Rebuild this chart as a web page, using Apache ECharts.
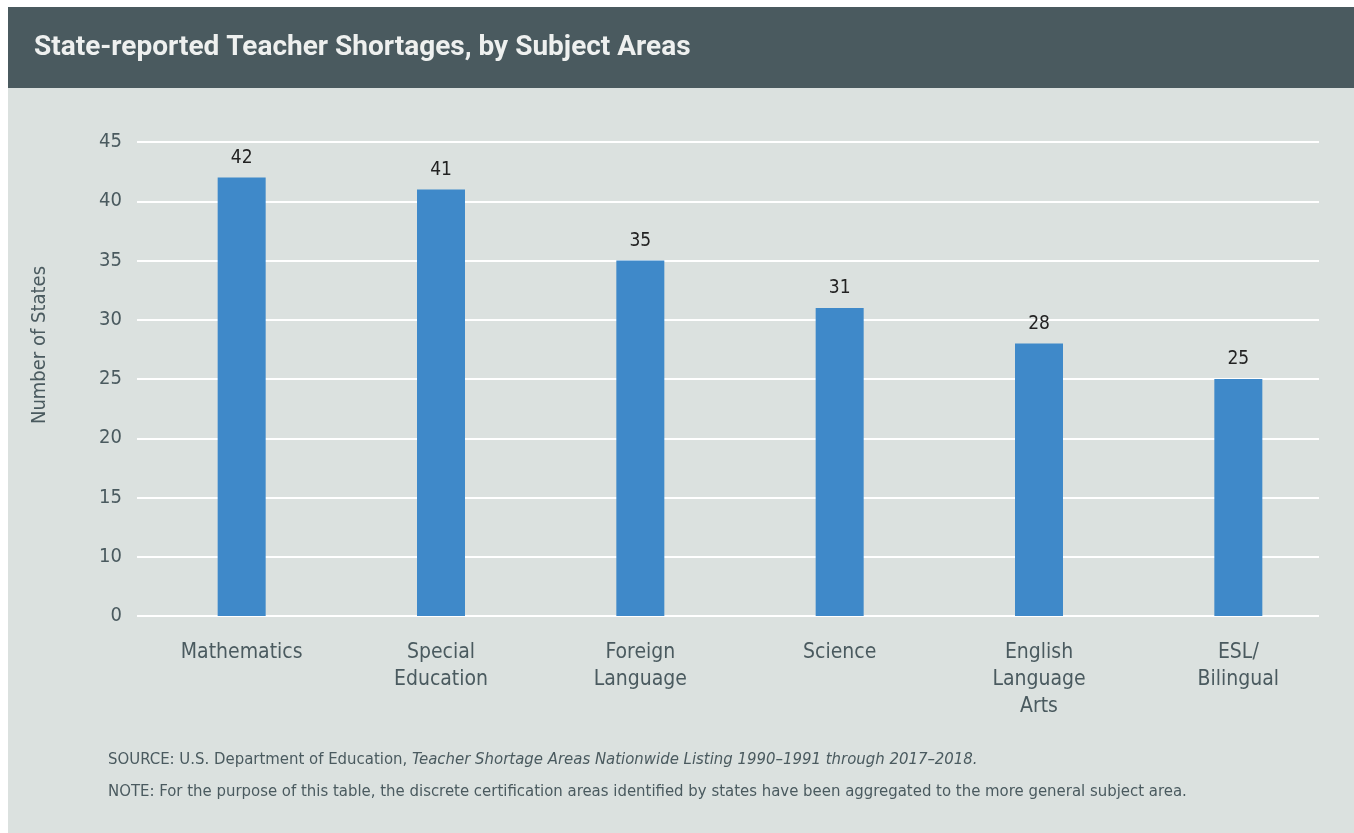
<!DOCTYPE html>
<html>
<head>
<meta charset="utf-8">
<script src="https://cdn.jsdelivr.net/npm/echarts@6/dist/echarts.min.js"></script>
<style>
html,body{margin:0;padding:0;background:#ffffff;}
#chart{width:1354px;height:833px;}
</style>
</head>
<body>
<div id="chart"></div>
<script>
const categories = ['Mathematics', 'Special\nEducation', 'Foreign\nLanguage', 'Science', 'English\nLanguage\nArts', 'ESL/\nBilingual'];
const values = [42, 41, 35, 31, 28, 25];
const yTicks = [5, 10, 15, 20, 25, 30, 35, 40, 45];
const yTickLabels = ['0', '10', '15', '20', '25', '30', '35', '40', '45'];
const titleText = 'State-reported Teacher Shortages, by Subject Areas';
const yAxisName = 'Number of States';
const sourceLead = 'SOURCE: U.S. Department of Education, ';
const sourceItalic = 'Teacher Shortage Areas Nationwide Listing 1990\u20131991 through 2017\u20132018.';
const noteText = 'NOTE: For the purpose of this table, the discrete certification areas identified by states have been aggregated to the more general subject area.';

const textColor = '#4a5a5f';
const narrow = '"Liberation Sans Narrow", "DejaVu Sans Condensed", "Roboto", sans-serif';

const chart = echarts.init(document.getElementById('chart'), null, {renderer: 'canvas'});

const yMin = yTicks[0], yMax = yTicks[yTicks.length - 1];
const labelFor = v => { const i = yTicks.indexOf(v); return i >= 0 ? yTickLabels[i] : ''; };

chart.setOption({
  backgroundColor: '#ffffff',
  animation: false,
  graphic: [
    {type: 'rect', left: 8, top: 7, shape: {width: 1346, height: 826}, style: {fill: '#dbe1df'}, z: -10},
    {type: 'rect', left: 8, top: 7, shape: {width: 1346, height: 81}, style: {fill: '#4a5a5f'}, z: -9},
    {type: 'text', x: 40, y: 345, rotation: Math.PI / 2, style: {
      text: yAxisName, fontFamily: narrow, fontSize: 20, fill: textColor, align: 'center', verticalAlign: 'middle'
    }},
    {type: 'text', left: 108, top: 751, style: {
      rich: {
        n: {fontFamily: narrow, fontSize: 16.6, fill: textColor},
        i: {fontFamily: narrow, fontSize: 16.6, fontStyle: 'italic', fill: textColor}
      },
      text: '{n|' + sourceLead + '}{i|' + sourceItalic + '}'
    }},
    {type: 'text', left: 108, top: 783, style: {text: noteText, fontFamily: narrow, fontSize: 16.6, fill: textColor}}
  ],
  title: {
    text: titleText, left: 29, top: 29,
    textStyle: {color: '#eef0ef', fontSize: 28, fontWeight: 'bold', fontFamily: 'Roboto, sans-serif'}
  },
  grid: [
    {left: 142, right: 16, top: 142, height: 474},
    {left: 137, right: 35, top: 142, height: 474}
  ],
  xAxis: [
    {type: 'category', gridIndex: 0, data: categories,
     axisLine: {show: false}, axisTick: {show: false},
     axisLabel: {color: textColor, fontFamily: narrow, fontSize: 21, lineHeight: 27, margin: 23, interval: 0, verticalAlign: 'top'}},
    {type: 'category', gridIndex: 1, data: categories, show: false}
  ],
  yAxis: [
    {type: 'value', gridIndex: 0, min: yMin, max: yMax, interval: 5,
     splitLine: {show: false}, axisLine: {show: false}, axisTick: {show: false},
     axisLabel: {show: false}},
    {type: 'value', gridIndex: 1, min: yMin, max: yMax, interval: 5,
     splitLine: {lineStyle: {color: '#ffffff', width: 2}},
     axisLine: {show: false}, axisTick: {show: false},
     axisLabel: {color: textColor, fontFamily: narrow, fontSize: 20, margin: 15, formatter: labelFor}}
  ],
  series: [{
    type: 'bar', xAxisIndex: 0, yAxisIndex: 0, data: values,
    barWidth: 48,
    itemStyle: {color: '#3f89c9'},
    label: {show: true, position: 'top', distance: 10, color: '#222222', fontFamily: narrow, fontSize: 19},
    z: 5
  }]
});
</script>
</body>
</html>
